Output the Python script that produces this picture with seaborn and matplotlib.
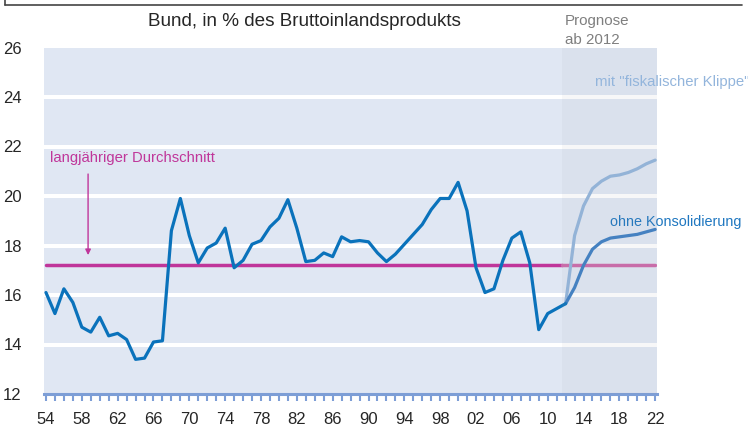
import numpy as np
import pandas as pd
import matplotlib
matplotlib.use('Agg')
import matplotlib.pyplot as plt
from matplotlib.patches import Rectangle
from matplotlib.lines import Line2D
import seaborn as sns

# ── Data ──────────────────────────────────────────────────────
years_hist = list(range(1954, 2013))
values_hist = [16.1, 15.25, 16.25, 15.7, 14.7, 14.5, 15.1, 14.35, 14.45, 14.2,
               13.4, 13.45, 14.1, 14.15, 18.6, 19.9, 18.4, 17.3, 17.9, 18.1,
               18.7, 17.1, 17.4, 18.05, 18.2, 18.75, 19.1, 19.85, 18.7, 17.35,
               17.4, 17.7, 17.55, 18.35, 18.15, 18.2, 18.15, 17.7, 17.35, 17.65,
               18.05, 18.45, 18.85, 19.45, 19.9, 19.9, 20.55, 19.4, 17.1, 16.1,
               16.25, 17.4, 18.3, 18.55, 17.3, 14.6, 15.25, 15.45, 15.65]
years_prog = list(range(2012, 2023))
klippe = [15.65, 18.4, 19.6, 20.3, 20.6, 20.8, 20.85, 20.95, 21.1, 21.3, 21.45]
ohne = [15.65, 16.3, 17.2, 17.85, 18.15, 18.3, 18.35, 18.4, 18.45, 18.55, 18.65]
mean_val = 17.2
prog_start = 2011.55
x_labels = ['54', '58', '62', '66', '70', '74', '78', '82', '86', '90', '94',
            '98', '02', '06', '10', '14', '18', '22']
y_ticks = [12, 14, 16, 18, 20, 22, 24, 26]

hist = pd.DataFrame({'Jahr': years_hist, 'Wert': values_hist})
prog = pd.DataFrame({'Jahr': years_prog, 'Klippe': klippe, 'Ohne': ohne})

# ── Style ─────────────────────────────────────────────────────
sns.set_theme(style="white")
plt.rcParams['font.family'] = ['Liberation Sans', 'DejaVu Sans']

BG = '#e0e7f3'
MAIN = '#0a72bb'
LIGHT = '#93b5dc'
DARK = '#3f80c4'
MAGENTA = '#c0369a'
TICK = '#7d9ed6'

fig = plt.figure(figsize=(7.48, 4.26), dpi=100)
ax = fig.add_axes([44/748, 1 - 394/426, (657-44)/748, (394-47.5)/426])
ax.set_facecolor(BG)
ax.set_xlim(1953.78, 2022.2)

# white gridlines
for y in [14, 16, 18, 20, 22, 24]:
    ax.axhline(y, color='white', lw=2.9, zorder=1)

# long-term average
ax.plot([1954, prog_start], [mean_val, mean_val], color=MAGENTA, lw=2.5, zorder=3)
ax.plot([prog_start, 2022], [mean_val, mean_val], color='#cc6aaa', lw=2.5, zorder=3)

# lines
sns.lineplot(data=prog, x='Jahr', y='Klippe', ax=ax, color=LIGHT, lw=2.3, zorder=4)
sns.lineplot(data=prog, x='Jahr', y='Ohne', ax=ax, color=DARK, lw=2.3, zorder=4)
sns.lineplot(data=hist, x='Jahr', y='Wert', ax=ax, color=MAIN, lw=2.3, zorder=5)

# forecast shading
ax.add_patch(Rectangle((prog_start, 12), 2022.2 - prog_start, 14,
                       facecolor=(0.6, 0.6, 0.62), alpha=0.07, lw=0, zorder=6))

# axes
for s in ['top', 'right', 'left']:
    ax.spines[s].set_visible(False)
ax.spines['bottom'].set_color(TICK)
ax.spines['bottom'].set_linewidth(2.2)
ax.set_xticks(range(1954, 2023))
ax.set_xticklabels([x_labels[i // 4] if i % 4 == 0 else '' for i in range(69)])
ax.tick_params(axis='x', direction='out', length=5, width=1.5, color=TICK,
               pad=8, labelsize=12, bottom=True)
ax.set_yticks(y_ticks)
ax.set_yticklabels([str(v) for v in y_ticks])
ax.set_ylim(12, 26)
ax.tick_params(axis='y', length=0, pad=16, labelsize=12)
ax.set_xlabel('')
ax.set_ylabel('')

# annotations
ax.text(1954.4, 21.55, 'langjähriger Durchschnitt', color=MAGENTA, fontsize=10.7,
        ha='left', va='center')
ax.annotate('', xy=(1958.7, mean_val + 0.3), xytext=(1958.7, 21.0),
            arrowprops=dict(arrowstyle='-|>', color=MAGENTA, lw=1,
                            mutation_scale=8), zorder=7)
ax.text(2017.0, 18.95, 'ohne Konsolidierung', color='#1f77c0', fontsize=10.4,
        ha='left', va='center', clip_on=False)
fig.text(595/748, 1 - 82/426, 'mit "fiskalischer Klippe"', color=LIGHT,
         fontsize=10.7, ha='left', va='center')
fig.text(565/748, 1 - 21/426, 'Prognose', color='#7f7f7f', fontsize=10.9,
         ha='left', va='center')
fig.text(565/748, 1 - 40/426, 'ab 2012', color='#7f7f7f', fontsize=10.9,
         ha='left', va='center')
fig.text(304/748, 1 - 22/426, 'Bund, in % des Bruttoinlandsprodukts',
         fontsize=13.6, ha='center', va='center')

# frame remnant at top
fig.add_artist(Line2D([5/748, 742/748], [1 - 5/426, 1 - 5/426],
                      color='#444444', lw=1.2))
fig.add_artist(Line2D([5/748, 5/748], [1, 1 - 5/426], color='#444444', lw=1.2))

fig.savefig('out.png', dpi=100)
plt.close(fig)
